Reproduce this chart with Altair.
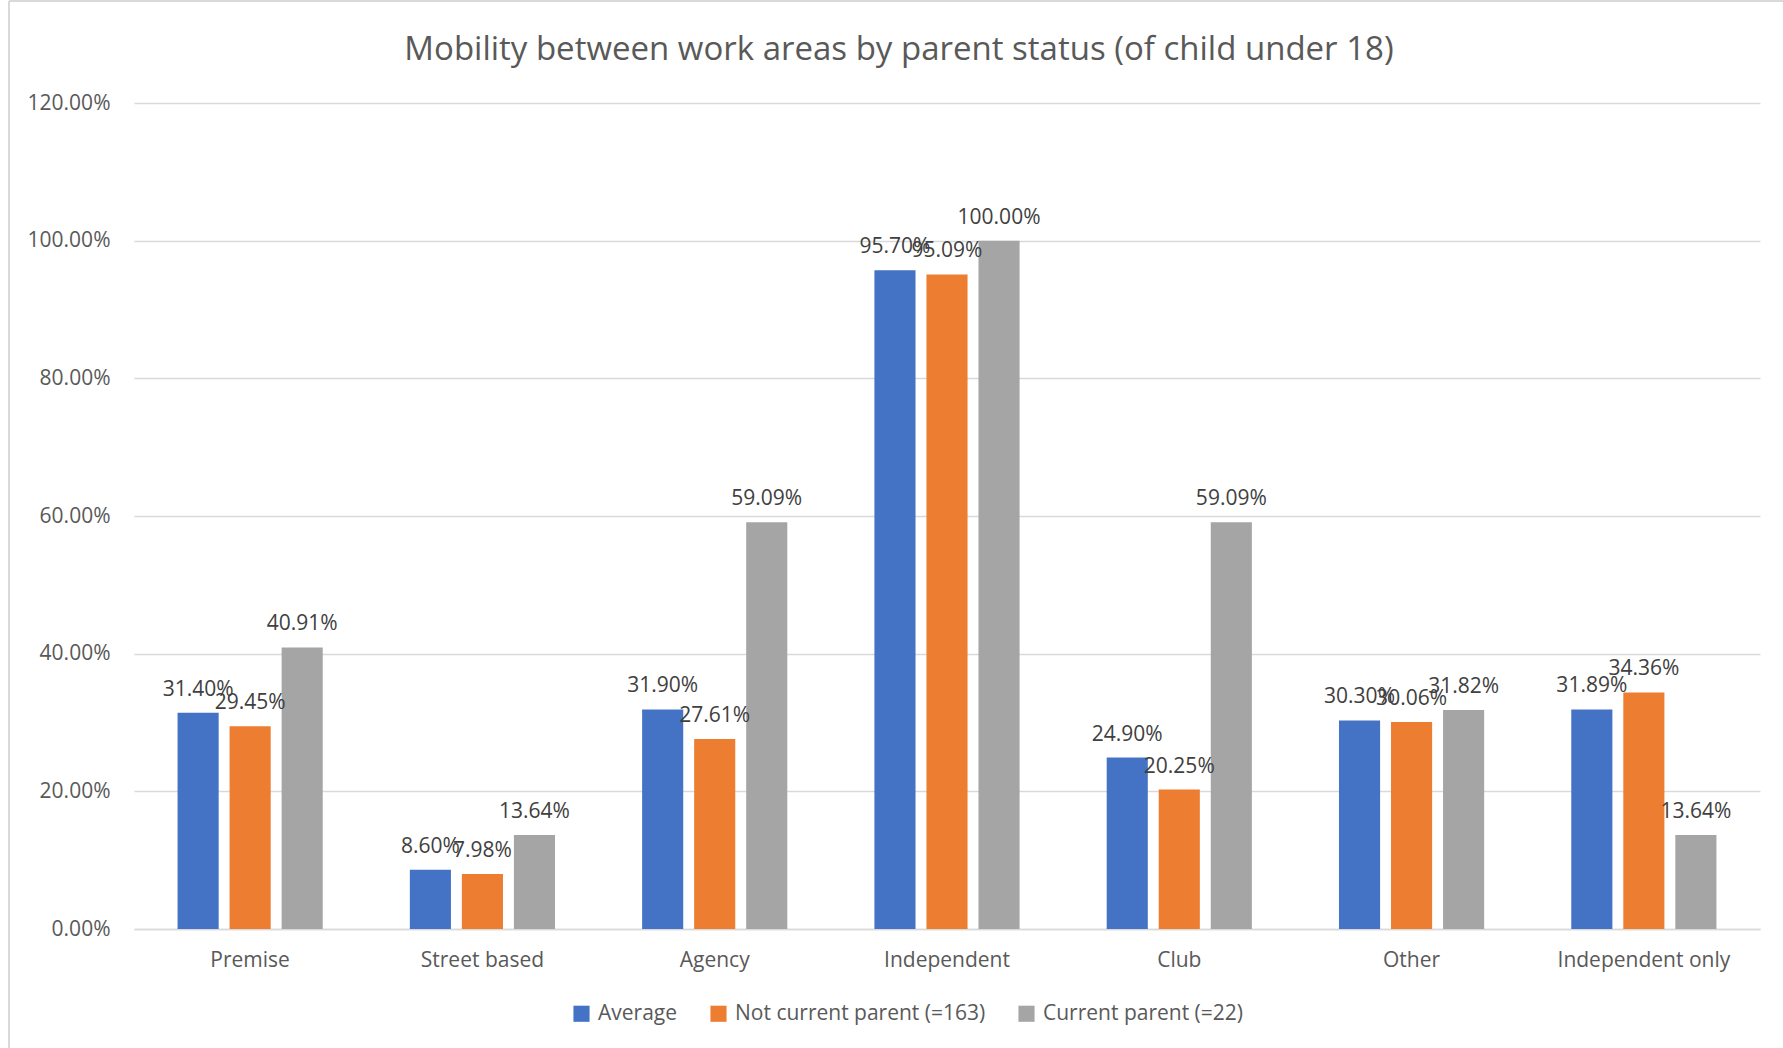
import altair as alt
import pandas as pd

title_text = "Mobility between work areas by parent status (of child under 18)"
categories = ["Premise", "Street based", "Agency", "Independent", "Club", "Other", "Independent only"]
series = ["Average", "Not current parent (=163)", "Current parent (=22)"]
average = [0.3140, 0.0860, 0.3190, 0.9570, 0.2490, 0.3030, 0.3189]
not_parent = [0.2945, 0.0798, 0.2761, 0.9509, 0.2025, 0.3006, 0.3436]
parent = [0.4091, 0.1364, 0.5909, 1.0000, 0.5909, 0.3182, 0.1364]
colors = ["#4472C4", "#ED7D31", "#A5A5A5"]

rows = []
for vals, s in zip([average, not_parent, parent], series):
    for c, v in zip(categories, vals):
        rows.append({"category": c, "series": s, "value": v})
df = pd.DataFrame(rows)

W, H = 1626, 826
FONT = "Open Sans"
FS = 21

base = alt.Chart(df).encode(
    x=alt.X("category:N", sort=categories,
            scale=alt.Scale(paddingInner=0.375, paddingOuter=0.1875),
            axis=alt.Axis(title=None, labelAngle=0, labelFontSize=FS, labelColor="#595959",
                          labelFont=FONT, labelPadding=20, ticks=False, domain=True,
                          domainColor="#D9D9D9", domainWidth=1.5)),
    xOffset=alt.XOffset("series:N", sort=series,
                        scale=alt.Scale(paddingInner=0.21, paddingOuter=0)),
)

bars = base.mark_bar().encode(
    y=alt.Y("value:Q", scale=alt.Scale(domain=[0, 1.2]),
            axis=alt.Axis(title=None, values=[0, 0.2, 0.4, 0.6, 0.8, 1.0, 1.2], format=".2%",
                          labelFontSize=FS, labelColor="#595959", labelFont=FONT,
                          labelPadding=24, ticks=False, domain=False,
                          gridColor="#D9D9D9", gridWidth=1.5)),
    color=alt.Color("series:N", sort=series,
                    scale=alt.Scale(domain=series, range=colors),
                    legend=alt.Legend(title=None, orient="none", direction="horizontal",
                                      legendX=437, legendY=1003 - 103,
                                      symbolType="square", symbolSize=260,
                                      symbolStrokeWidth=0, labelFontSize=FS,
                                      labelColor="#595959", labelFont=FONT, labelLimit=0,
                                      columnPadding=30, labelOffset=6)),
)

labels = base.mark_text(baseline="bottom", dy=-13, fontSize=FS, color="#404040", font=FONT).encode(
    y="value:Q",
    text=alt.Text("value:Q", format=".2%"),
)

title = alt.Chart(pd.DataFrame({"t": [title_text]})).mark_text(
    fontSize=33, font=FONT, color="#595959", align="center", baseline="middle"
).encode(x=alt.value(899 - 134), y=alt.value(50 - 103), text="t:N")

border = alt.Chart(pd.DataFrame({"a": [0]})).mark_rule(color="#D9D9D9", strokeWidth=2).encode(
    x=alt.value(-125), y=alt.value(-102), y2=alt.value(H + 120))
border_top = alt.Chart(pd.DataFrame({"a": [0]})).mark_rule(color="#D9D9D9", strokeWidth=2).encode(
    x=alt.value(-125), x2=alt.value(W + 30), y=alt.value(-102))

chart = alt.layer(bars, labels, title, border, border_top).properties(
    width=W, height=H,
    background="white",
    autosize=alt.AutoSizeParams(type="none"),
    padding={"left": 134, "top": 103, "right": 23, "bottom": 119},
).configure_view(stroke="transparent", strokeWidth=0)

chart.save("out.html", embed_options={"renderer": "svg", "actions": False})
